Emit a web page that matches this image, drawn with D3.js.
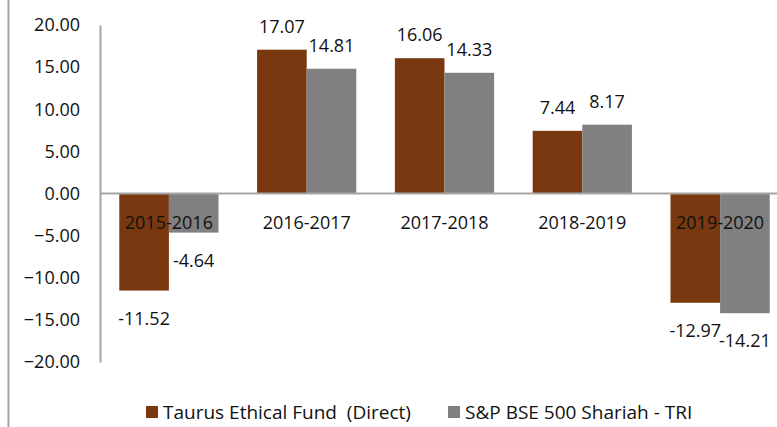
<!DOCTYPE html>
<html lang="en">
<head>
<meta charset="utf-8">
<title>Taurus Ethical Fund vs S&amp;P BSE 500 Shariah</title>
<script src="https://cdn.jsdelivr.net/npm/d3@7/dist/d3.min.js"></script>
<style>
  body { margin: 0; background: #fff; }
  svg text { font-family: "Open Sans", sans-serif; fill: #111; }
</style>
</head>
<body>
<svg width="777" height="427"></svg>
<script>
var periodes = ["2015-2016", "2016-2017", "2017-2018", "2018-2019", "2019-2020"];
var series = ["Taurus Ethical Fund  (Direct)", "S&P BSE 500 Shariah - TRI"];
var fonds = [-11.52, 17.07, 16.06, 7.44, -12.97];
var indice = [-4.64, 14.81, 14.33, 8.17, -14.21];
var graduations = [-20, -15, -10, -5, 0, 5, 10, 15, 20];
var couleurs = ["#7a3810", "#808080"];

var svg = d3.select("svg");

// bordure gauche du cadre
svg.append("line")
  .attr("x1", 8.5).attr("x2", 8.5)
  .attr("y1", 0).attr("y2", 427)
  .attr("stroke", "#a6a6a6").attr("stroke-width", 2);

var y = d3.scaleLinear().domain([-20, 20]).range([362, 25]);

var x0 = d3.scaleBand()
  .domain(periodes)
  .range([100, 789])
  .paddingInner(0.28)
  .paddingOuter(0.14);

var x1 = d3.scaleBand()
  .domain([0, 1])
  .range([0, x0.bandwidth()]);

var donnees = periodes.map(function (p, i) {
  return { periode: p, valeurs: [fonds[i], indice[i]] };
});

// axe des ordonnees
var axe = svg.append("g")
  .attr("transform", "translate(100,0)")
  .call(d3.axisLeft(y)
    .tickValues(graduations)
    .tickFormat(d3.format(".2f"))
    .tickSize(0)
    .tickPadding(20));
axe.select(".domain").attr("stroke", "#a6a6a6").attr("stroke-width", 2);
axe.selectAll("text")
  .style("font-size", "18px")
  .style("font-family", "'Open Sans', sans-serif")
  .attr("fill", "#111");

// barres
var groupes = svg.selectAll("g.groupe")
  .data(donnees)
  .enter()
  .append("g")
  .attr("class", "groupe")
  .attr("transform", function (d) { return "translate(" + x0(d.periode) + ",0)"; });

groupes.selectAll("rect")
  .data(function (d) { return d.valeurs; })
  .enter()
  .append("rect")
  .attr("x", function (v, i) { return x1(i); })
  .attr("width", x1.bandwidth())
  .attr("y", function (v) { return y(Math.max(0, v)); })
  .attr("height", function (v) { return Math.abs(y(v) - y(0)); })
  .attr("fill", function (v, i) { return couleurs[i]; });

// ligne du zero
svg.append("line")
  .attr("x1", 100).attr("x2", 777)
  .attr("y1", y(0)).attr("y2", y(0))
  .attr("stroke", "#a6a6a6").attr("stroke-width", 2);

// etiquettes des periodes
svg.selectAll("text.periode")
  .data(periodes)
  .enter()
  .append("text")
  .attr("class", "periode")
  .attr("x", function (d) { return x0(d) + x0.bandwidth() / 2; })
  .attr("y", y(0) + 35)
  .attr("text-anchor", "middle")
  .style("font-size", "18px")
  .text(function (d) { return d; });

// etiquettes des valeurs
groupes.selectAll("text.valeur")
  .data(function (d) { return d.valeurs; })
  .enter()
  .append("text")
  .attr("class", "valeur")
  .attr("x", function (v, i) { return x1(i) + x1.bandwidth() / 2; })
  .attr("y", function (v) { return v >= 0 ? y(v) - 17 : y(v) + 34; })
  .attr("text-anchor", "middle")
  .style("font-size", "18px")
  .text(function (v) { return v.toFixed(2); });

// legende
var legende = svg.append("g").attr("transform", "translate(0,412)");
var posLegende = [146, 448];
series.forEach(function (s, i) {
  legende.append("rect")
    .attr("x", posLegende[i]).attr("y", -6)
    .attr("width", 12).attr("height", 12)
    .attr("fill", couleurs[i]);
  legende.append("text")
    .attr("x", posLegende[i] + 17).attr("y", 6.5)
    .style("font-size", "19px")
    .style("white-space", "pre")
    .attr("xml:space", "preserve")
    .text(s);
});
</script>
</body>
</html>
